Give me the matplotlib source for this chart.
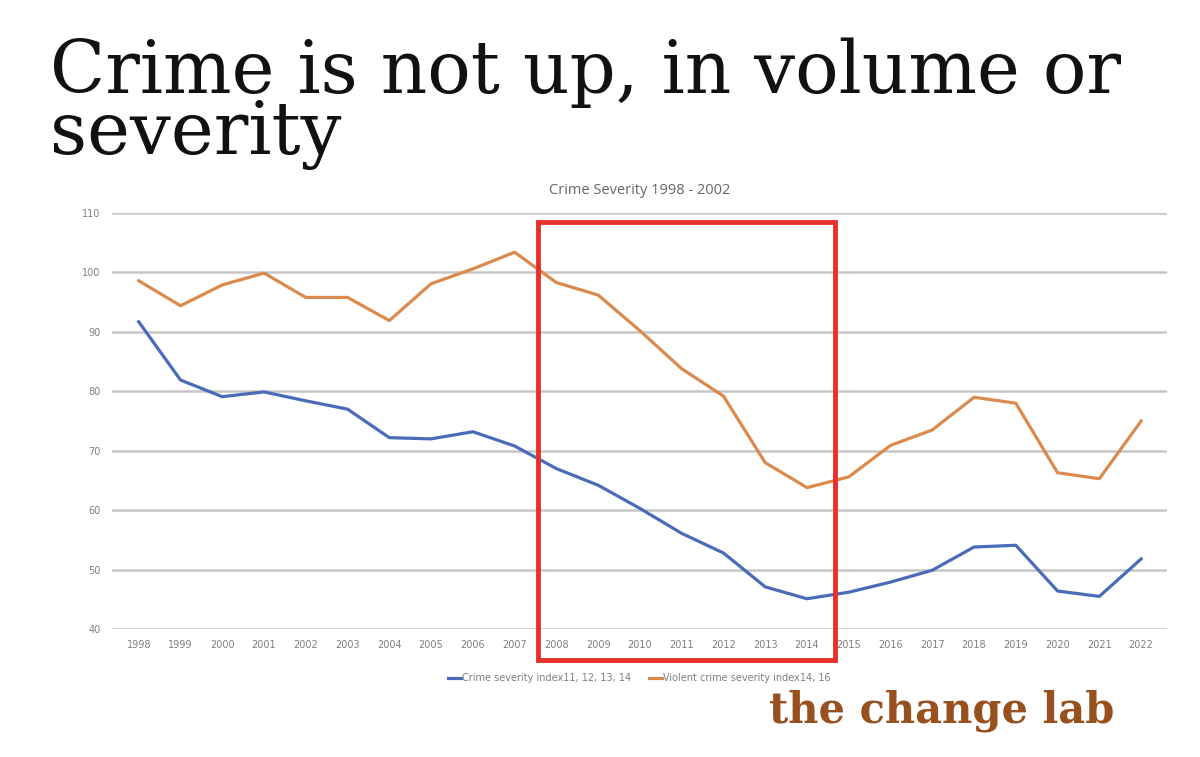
import matplotlib
matplotlib.use("Agg")
import matplotlib.pyplot as plt
from matplotlib.patches import Rectangle

# --------------------------------------------------
# data
# --------------------------------------------------
years = list(range(1998, 2023))
crime_severity = [91.7, 81.9, 79.1, 79.9, 78.4, 77.0, 72.2, 72.0, 73.2, 70.8,
                  67.0, 64.2, 60.3, 56.1, 52.8, 47.1, 45.1, 46.2, 47.9, 49.9,
                  53.8, 54.1, 46.4, 45.5, 51.8]
violent_severity = [98.6, 94.4, 97.9, 99.9, 95.8, 95.8, 91.9, 98.1, 100.6, 103.4,
                    98.3, 96.2, 90.2, 83.8, 79.2, 68.0, 63.8, 65.6, 70.9, 73.5,
                    79.0, 78.0, 66.3, 65.3, 75.0]
y_ticks = [40, 50, 60, 70, 80, 90, 100, 110]
series_labels = ["Crime severity index11, 12, 13, 14",
                 "Violent crime severity index14, 16"]
# highlighted period (box drawn over the chart)
box_x0, box_x1 = 2007.56, 2014.67
box_y0, box_y1 = 34.8, 108.5

grey_txt = "#7f7f7f"

fig = plt.figure(figsize=(12, 7.57), dpi=100)
fig.patch.set_facecolor("white")

# slide heading (one text block, two lines)
fig.text(0.042, 0.951, "Crime is not up, in volume or\nseverity", fontsize=52,
         family="DejaVu Serif", color="#111111", va="top",
         linespacing=0.84)

ax = fig.add_axes([0.093, 0.169, 0.8795, 0.5496])
ax.plot(years, crime_severity, color="#4a6cb8", lw=2.3, label=series_labels[0])
ax.plot(years, violent_severity, color="#db8a4e", lw=2.3, label=series_labels[1])

ax.set_xlim(1997.35, 2022.62)
ax.set_ylim(40, 110)
ax.set_yticks(y_ticks)
ax.set_xticks(years)
ax.set_xticklabels([str(y) for y in years])
ax.tick_params(length=0, labelsize=7, colors=grey_txt, pad=8)
ax.grid(axis="y", color="#c6c6c6", lw=1.8)
ax.set_axisbelow(True)
for s in ax.spines.values():
    s.set_visible(False)

ax.set_title("Crime Severity 1998 - 2002", fontsize=10.5, color="#666666",
             pad=14, family="Open Sans")

ax.add_patch(Rectangle((box_x0, box_y0), box_x1 - box_x0, box_y1 - box_y0,
                       fill=False, edgecolor="#e8302a", lw=3.5,
                       clip_on=False, zorder=5))

ax.legend(loc="upper center", bbox_to_anchor=(0.5, -0.085), ncol=2,
          frameon=False, fontsize=7, labelcolor=grey_txt,
          handlelength=1.4, handletextpad=0.1, columnspacing=1.8)

fig.text(0.929, 0.045, "the change lab", fontsize=30, family="DejaVu Serif",
         weight="bold", color="#98501e", ha="right", va="baseline")

fig.savefig("out.png", dpi=100)
